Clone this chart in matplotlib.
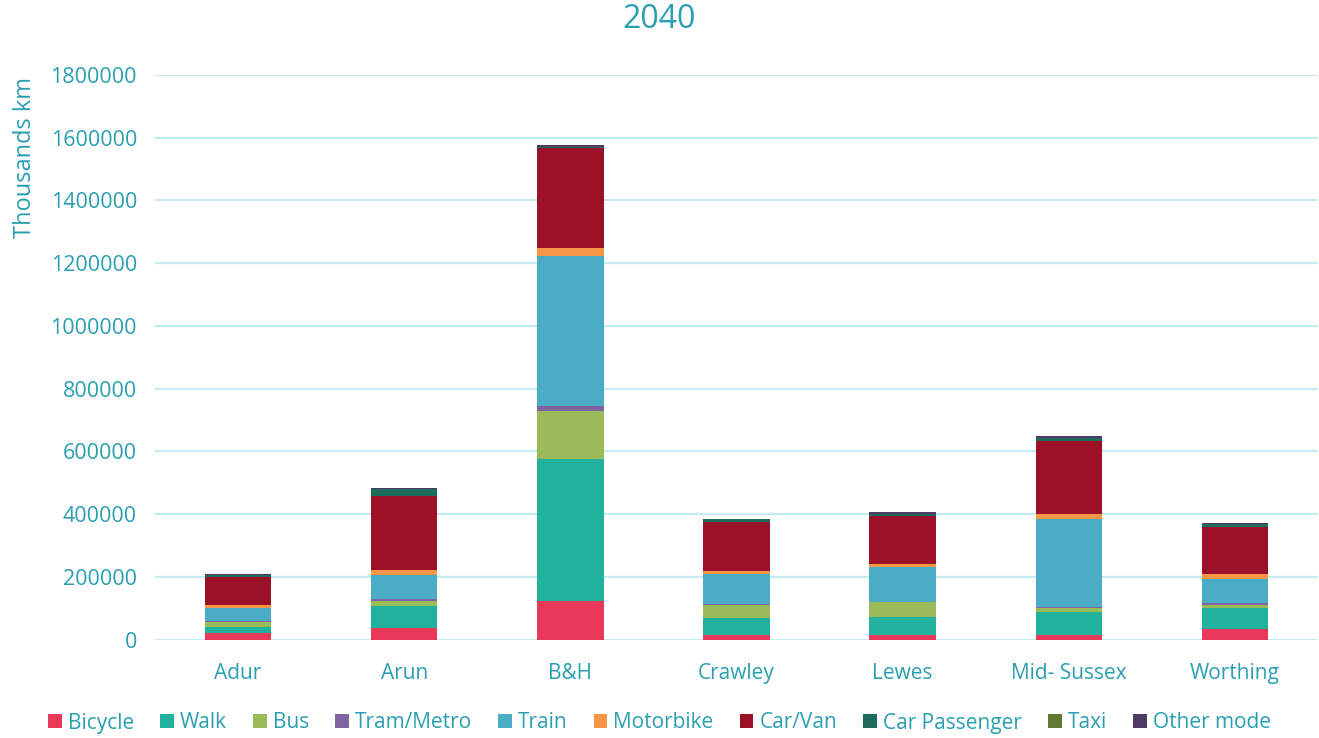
import matplotlib.pyplot as plt
import numpy as np

# district totals by mode, thousands km (2040)
districts = ["Adur", "Arun", "B&H", "Crawley", "Lewes", "Mid- Sussex", "Worthing"]
modes = ["Bicycle", "Walk", "Bus", "Tram/Metro", "Train", "Motorbike",
         "Car/Van", "Car Passenger", "Taxi", "Other mode"]

bicycle = [20000, 36000, 122000, 15000, 13000, 13000, 35000]
walk = [21000, 72000, 453000, 53000, 59000, 76000, 66000]
bus = [15000, 14000, 155000, 43000, 46000, 13000, 10000]
tram = [3000, 6000, 13000, 2000, 3000, 1000, 4000]
train = [41000, 77000, 479000, 97000, 109000, 282000, 79000]
motorbike = [11000, 16000, 26000, 9000, 11000, 14000, 16000]
car_van = [89000, 237000, 318000, 156000, 152000, 235000, 148000]
car_passenger = [6000, 22000, 4000, 8000, 6000, 9000, 9000]
taxi = [500, 500, 1000, 500, 500, 500, 500]
other = [2000, 2000, 6000, 1000, 7000, 4000, 3000]

series = [bicycle, walk, bus, tram, train, motorbike, car_van,
          car_passenger, taxi, other]
colors = ["#E8395A", "#22B19C", "#9BBB59", "#8064A2", "#4BACC6", "#F79646",
          "#9B1128", "#1C6B5C", "#607830", "#4D3B63"]

txt = "#2A9FB2"
plt.rcParams['font.family'] = ['Open Sans', 'DejaVu Sans']

fig = plt.figure(figsize=(13.19, 7.38), dpi=100)
ax = fig.add_axes([155 / 1319, (738 - 639.5) / 738, (1318 - 155) / 1319, (639.5 - 75) / 738])

x = np.arange(len(districts))
bottom = np.zeros(len(districts))
handles = []
for name, vals, c in zip(modes, series, colors):
    b = ax.bar(x, vals, width=0.4, bottom=bottom, color=c, label=name, zorder=3)
    handles.append(b)
    bottom += np.array(vals)

ax.set_xlim(-0.5, 6.5)
ax.set_ylim(0, 1800000)
ax.set_yticks(np.arange(0, 1800001, 200000))
ax.set_yticklabels([str(v) for v in range(0, 1800001, 200000)])
ax.set_xticks(x)
ax.set_xticklabels(districts)
ax.grid(axis='y', color="#C4ECF2", linewidth=1.6, zorder=0)
for s in ax.spines.values():
    s.set_visible(False)
ax.tick_params(axis='both', length=0, colors=txt)
ax.tick_params(axis='x', pad=17, labelsize=15)
ax.tick_params(axis='y', pad=13, labelsize=15.5)

fig.text(25 / 1319, 1 - 157 / 738, "Thousands km", rotation=90, color=txt,
         fontsize=17, ha='center', va='center')
fig.text(0.5, 1 - 19 / 738, "2040", color=txt, fontsize=23, ha='center', va='center')

leg = fig.legend(handles, modes, loc='center', bbox_to_anchor=(0.5, 1 - 723 / 738),
                 ncol=10, frameon=False, fontsize=15, handlelength=0.65,
                 handleheight=0.65, handletextpad=0.3, columnspacing=1.25)
for t in leg.get_texts():
    t.set_color(txt)

fig.savefig("out.png", dpi=100)
